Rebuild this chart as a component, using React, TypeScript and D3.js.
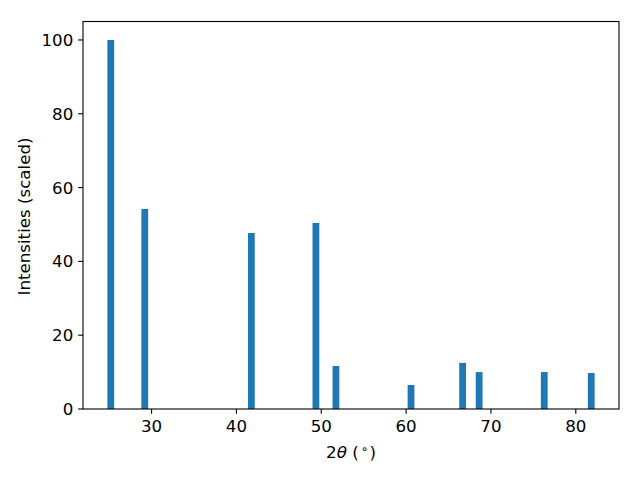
import React from "react";
import * as d3 from "d3";

const positions = [25.19, 29.2, 41.76, 49.37, 51.73, 60.58, 66.66, 68.61, 76.28, 81.82];
const intensities = [100, 54.2, 47.7, 50.4, 11.65, 6.5, 12.5, 10.0, 10.0, 9.75];
const xTicks = [30, 40, 50, 60, 70, 80];
const yTicks = [0, 20, 40, 60, 80, 100];

const W = 640, H = 480;
const left = 83, right = 619, top = 21.5, bottom = 409;
const barWidth = 0.8;

export default function App() {
  const lo = d3.min(positions)! - barWidth / 2;
  const hi = d3.max(positions)! + barWidth / 2;
  const pad = (hi - lo) * 0.05;
  const x = d3.scaleLinear().domain([lo - pad, hi + pad]).range([left, right]);
  const y = d3.scaleLinear().domain([0, 105]).range([bottom, top]);
  const font = "'DejaVu Sans', sans-serif";
  const fs = 16.67;
  const tick = 4.86;
  return (
    <svg width={W} height={H} style={{ position: "absolute", left: 0, top: 0, background: "#fff" }}>
      <rect x={0} y={0} width={W} height={H} fill="#fff" />
      {positions.map((p, i) => (
        <rect key={i} x={x(p - barWidth / 2)} y={y(intensities[i])}
          width={x(p + barWidth / 2) - x(p - barWidth / 2)} height={y(0) - y(intensities[i])}
          fill="#1f77b4" />
      ))}
      <rect x={left} y={top} width={right - left} height={bottom - top} fill="none" stroke="#000" strokeWidth={1.1} />
      {xTicks.map(t => (
        <g key={t}>
          <line x1={x(t)} x2={x(t)} y1={bottom} y2={bottom + tick} stroke="#000" strokeWidth={1.1} />
          <text x={x(t)} y={431.5} textAnchor="middle" fontFamily={font} fontSize={fs}>{t}</text>
        </g>
      ))}
      {yTicks.map(t => (
        <g key={t}>
          <line x1={left - tick} x2={left} y1={y(t)} y2={y(t)} stroke="#000" strokeWidth={1.1} />
          <text x={left - tick - 4.86} y={y(t)} dy="0.36em" textAnchor="end" fontFamily={font} fontSize={fs}>{t}</text>
        </g>
      ))}
      <text x={(left + right) / 2} y={457.5} textAnchor="middle" fontFamily={font} fontSize={fs}>
        2<tspan fontStyle="italic">θ</tspan> (<tspan fontSize={fs * 0.7} dx={2} dy={-5}>∘</tspan><tspan dx={1.5} dy={5}>)</tspan>
      </text>
      <text transform={`translate(${29.5}, ${216.5}) rotate(-90)`} textAnchor="middle"
        fontFamily={font} fontSize={fs}>Intensities (scaled)</text>
    </svg>
  );
}
